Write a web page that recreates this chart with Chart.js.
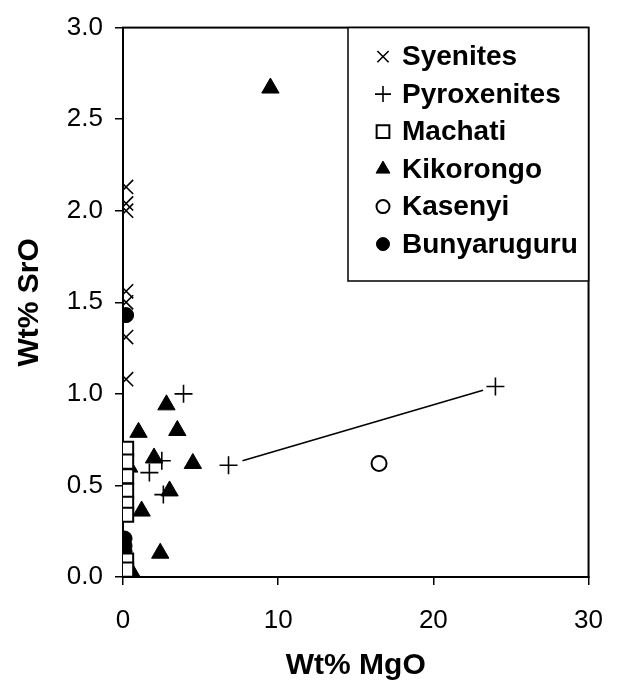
<!DOCTYPE html>
<html>
<head>
<meta charset="utf-8">
<script src="https://cdn.jsdelivr.net/npm/chart.js@4.4.1/dist/chart.umd.min.js"></script>
<style>
  html, body { margin: 0; padding: 0; background: #fff; }
  #wrap { width: 623px; height: 689px; position: relative; }
</style>
</head>
<body>
<div id="wrap"><canvas id="srChart"></canvas></div>
<script>
// Wt% MgO (x) en Wt% SrO (y) per groep
const syenitesMgO = [0.2, 0.2, 0.2, 0.2, 0.2, 0.2, 0.2];
const syenitesSrO = [2.13, 2.04, 2.0, 1.56, 1.50, 1.31, 1.08];

const pyroxenitesMgO = [3.9, 2.5, 1.7, 6.8, 2.6, 24.0];
const pyroxenitesSrO = [1.0, 0.635, 0.57, 0.61, 0.45, 1.04];

const machatiMgO = [0.2, 0.2, 0.2, 0.2, 0.2, 0.2, 0.2, 0.2];
const machatiSrO = [0.70, 0.63, 0.55, 0.47, 0.40, 0.34, 0.09, 0.04];

const kikorongoMgO = [9.5, 2.8, 1.0, 3.5, 2.0, 0.4, 4.5, 3.0, 1.2, 2.4, 0.6];
const kikorongoSrO = [2.67, 0.94, 0.79, 0.80, 0.65, 0.60, 0.62, 0.47, 0.36, 0.13, 0.02];

const kasenyiMgO = [16.5];
const kasenyiSrO = [0.62];

const bunyaruguruMgO = [0.2, 0.1, 0.1, 0.1, 0.1];
const bunyaruguruSrO = [1.43, 0.43, 0.21, 0.17, 0.14];

// trendlijn door de pyroxenieten (met openingen bij de markers)
const trendMgO = [7.7, 23.2];
const trendSrO = [0.635, 1.02];

const xTicks = [0, 10, 20, 30];
const yTicks = [0.0, 0.5, 1.0, 1.5, 2.0, 2.5, 3.0];

const toPoints = (xs, ys) => xs.map((x, i) => ({ x: x, y: ys[i] }));

const FONT = "'Liberation Sans', Arial, sans-serif";

// Legenda binnen het plotvlak, rechtsboven met kader
const boxLegend = {
    id: 'boxLegend',
    afterDraw(chart) {
        const ctx = chart.ctx;
        const area = chart.chartArea;
        const left = 348, top = area.top, right = area.right, bottom = 281;
        ctx.save();
        ctx.fillStyle = '#fff';
        ctx.fillRect(left, top, right - left, bottom - top);
        ctx.strokeStyle = '#000';
        ctx.lineWidth = 1.5;
        ctx.strokeRect(left, top, right - left, bottom - top);

        let row = 0;
        chart.data.datasets.forEach(ds => {
            if (ds.noLegend) return;
            const y = top + 29 + row * 37.5;
            ctx.fillStyle = ds.backgroundColor;
            ctx.strokeStyle = '#000';
            ctx.lineWidth = ds.borderWidth;
            Chart.helpers.drawPoint(ctx, {
                pointStyle: ds.pointStyle,
                radius: ds.legendRadius,
                borderWidth: ds.borderWidth
            }, 383, y);
            ctx.fillStyle = '#000';
            ctx.font = 'bold 28px ' + FONT;
            ctx.textBaseline = 'middle';
            ctx.textAlign = 'left';
            ctx.fillText(ds.label, 402, y + 1);
            row++;
        });
        ctx.restore();
    }
};

// Kader rond het plotvlak (boven- en rechterrand)
const frame = {
    id: 'frame',
    beforeDatasetsDraw(chart) {
        const a = chart.chartArea;
        const ctx = chart.ctx;
        ctx.save();
        ctx.strokeStyle = '#000';
        ctx.lineWidth = 2;
        ctx.strokeRect(a.left, a.top, a.right - a.left, a.bottom - a.top);
        ctx.restore();
    }
};

const ctx = document.getElementById('srChart').getContext('2d');

new Chart(ctx, {
    type: 'scatter',
    data: {
        datasets: [
            {
                label: 'trend',
                noLegend: true,
                data: toPoints(trendMgO, trendSrO),
                showLine: true,
                borderColor: '#000',
                borderWidth: 1.6,
                pointRadius: 0,
                fill: false
            },
            {
                label: 'Syenites',
                data: toPoints(syenitesMgO, syenitesSrO),
                pointStyle: 'crossRot',
                pointRadius: 10,
                legendRadius: 8,
                borderColor: '#000',
                backgroundColor: '#000',
                borderWidth: 1.6
            },
            {
                label: 'Pyroxenites',
                data: toPoints(pyroxenitesMgO, pyroxenitesSrO),
                pointStyle: 'cross',
                pointRadius: 9,
                legendRadius: 8,
                borderColor: '#000',
                backgroundColor: '#000',
                borderWidth: 1.6
            },
            {
                label: 'Machati',
                data: toPoints(machatiMgO, machatiSrO),
                pointStyle: 'rect',
                pointRadius: 10,
                legendRadius: 9,
                borderColor: '#000',
                backgroundColor: '#fff',
                borderWidth: 2
            },
            {
                label: 'Kikorongo',
                data: toPoints(kikorongoMgO, kikorongoSrO),
                pointStyle: 'triangle',
                pointRadius: 10,
                legendRadius: 8,
                borderColor: '#000',
                backgroundColor: '#000',
                borderWidth: 1
            },
            {
                label: 'Kasenyi',
                data: toPoints(kasenyiMgO, kasenyiSrO),
                pointStyle: 'circle',
                pointRadius: 7.5,
                legendRadius: 6.5,
                borderColor: '#000',
                backgroundColor: '#fff',
                borderWidth: 2
            },
            {
                label: 'Bunyaruguru',
                data: toPoints(bunyaruguruMgO, bunyaruguruSrO),
                pointStyle: 'circle',
                pointRadius: 7.5,
                legendRadius: 6.5,
                borderColor: '#000',
                backgroundColor: '#000',
                borderWidth: 1
            }
        ]
    },
    options: {
        responsive: true,
        maintainAspectRatio: false,
        animation: false,
        layout: {
            padding: { top: 24, right: 22, left: 0, bottom: 0 }
        },
        plugins: {
            legend: { display: false },
            tooltip: { enabled: false }
        },
        scales: {
            x: {
                type: 'linear',
                min: 0,
                max: 30,
                afterFit: s => { s.height = 112; },
                afterBuildTicks: s => { s.ticks = xTicks.map(v => ({ value: v })); },
                border: { display: true, color: '#000', width: 2 },
                grid: {
                    drawOnChartArea: false,
                    drawTicks: true,
                    tickLength: 8,
                    color: '#000',
                    lineWidth: 1.5
                },
                ticks: {
                    color: '#000',
                    padding: 20,
                    font: { family: FONT, size: 26 }
                },
                title: {
                    display: true,
                    text: 'Wt% MgO',
                    color: '#000',
                    padding: { top: 0, bottom: 5 },
                    font: { family: FONT, size: 30, weight: 'bold' }
                }
            },
            y: {
                type: 'linear',
                min: 0,
                max: 3,
                afterFit: s => { s.width = 123; },
                afterBuildTicks: s => { s.ticks = yTicks.map(v => ({ value: v })); },
                border: { display: true, color: '#000', width: 2 },
                grid: {
                    drawOnChartArea: false,
                    drawTicks: true,
                    tickLength: 8,
                    color: '#000',
                    lineWidth: 1.5
                },
                ticks: {
                    color: '#000',
                    padding: 12,
                    callback: v => Number(v).toFixed(1),
                    font: { family: FONT, size: 26 }
                },
                title: {
                    display: true,
                    text: 'Wt% SrO',
                    color: '#000',
                    padding: { top: 12, bottom: 0 },
                    font: { family: FONT, size: 30, weight: 'bold' }
                }
            }
        }
    },
    plugins: [frame, boxLegend]
});
</script>
</body>
</html>
